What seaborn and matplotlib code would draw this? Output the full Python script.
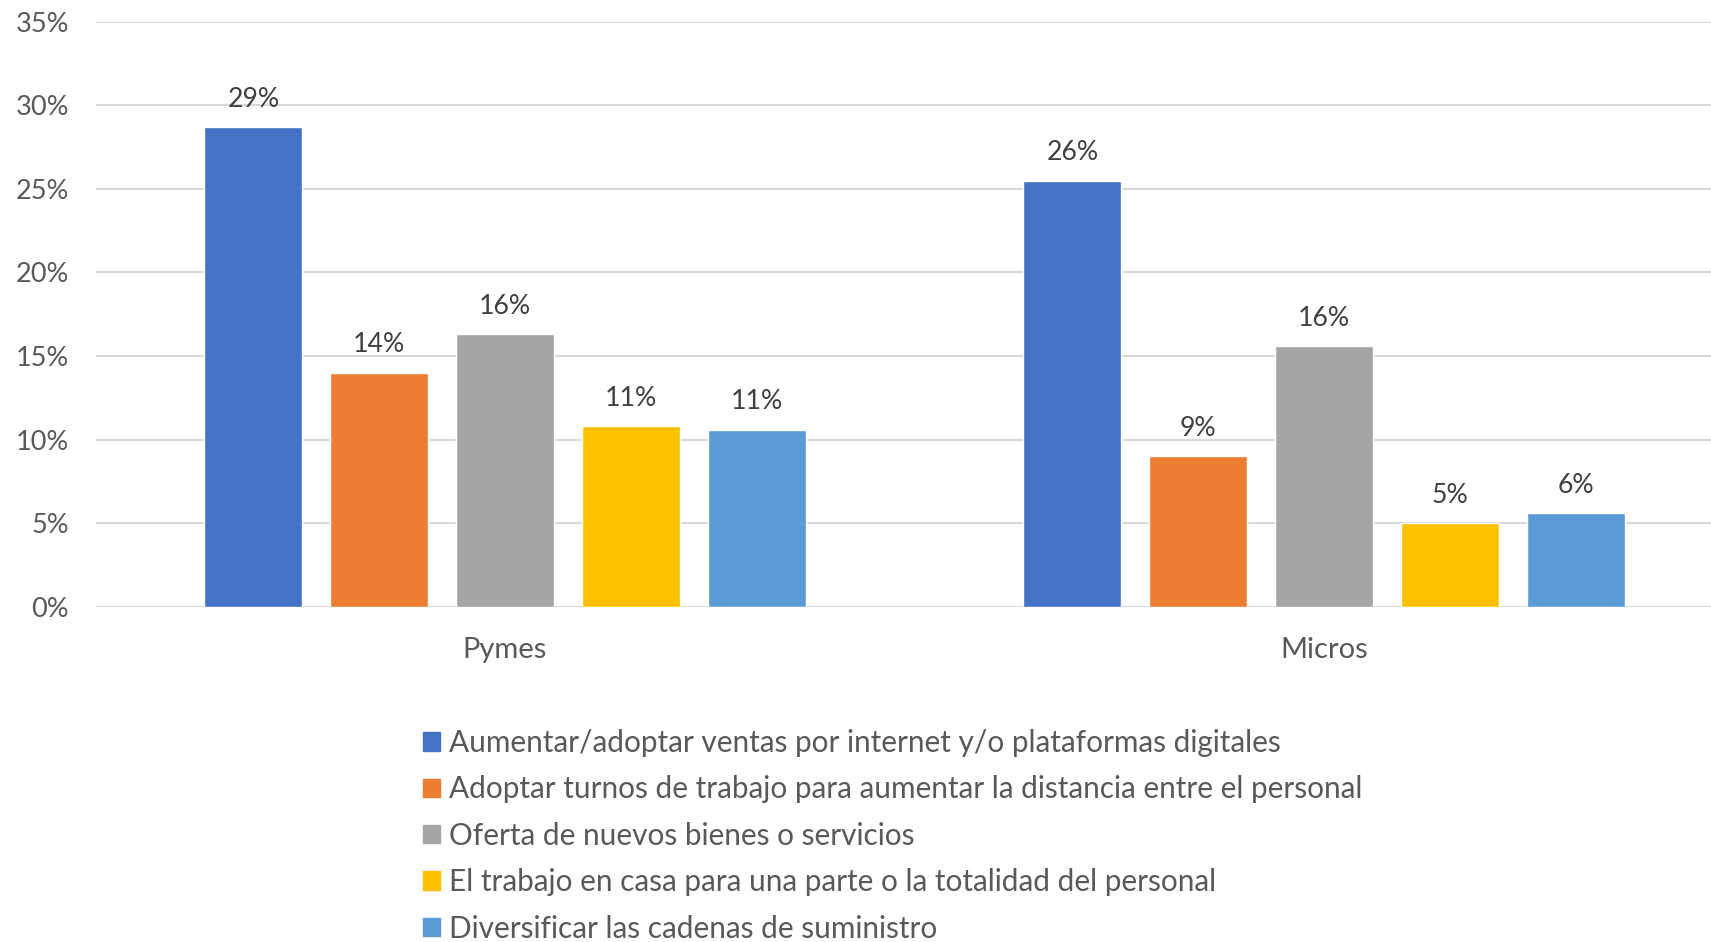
import pandas as pd
import matplotlib.pyplot as plt
import seaborn as sns

# Chart data
groups = ["Pymes", "Micros"]
acciones = [
    "Aumentar/adoptar ventas por internet y/o plataformas digitales",
    "Adoptar turnos de trabajo para aumentar la distancia entre el personal",
    "Oferta de nuevos bienes o servicios",
    "El trabajo en casa para una parte o la totalidad del personal",
    "Diversificar las cadenas de suministro",
]
pymes = [0.287, 0.140, 0.163, 0.108, 0.106]
micros = [0.255, 0.090, 0.156, 0.050, 0.056]
colors = ["#4472C4", "#ED7D31", "#A5A5A5", "#FFC000", "#5B9BD5"]

df = pd.DataFrame({
    "grupo": [g for g in groups for _ in acciones],
    "accion": acciones * 2,
    "valor": pymes + micros,
})

sns.set_style("white")
plt.rcParams["font.family"] = ["Lato", "DejaVu Sans"]

fig = plt.figure(figsize=(17.11, 9.42), dpi=100)
ax = fig.add_axes([95.5 / 1711, 1 - 606.7 / 942, 1 - 95.5 / 1711, (606.7 - 21.8) / 942])

sns.barplot(data=df, x="grupo", y="valor", hue="accion", hue_order=acciones,
            palette=colors, width=0.768, gap=0.22, saturation=1,
            legend=False, ax=ax)

ax.set_ylim(0, 0.35)
ax.set_xlim(-0.5, 1.5 - 22.5 / 819)
ax.set_yticks([i * 0.05 for i in range(8)])
ax.set_yticklabels([f"{i * 5}%" for i in range(8)])
ax.grid(axis="y", color="#D9D9D9", linewidth=1.5)
ax.set_axisbelow(True)
for s in ax.spines.values():
    s.set_visible(False)
ax.tick_params(axis="both", length=0, labelcolor="#595959")
ax.tick_params(axis="y", pad=19, labelsize=19.5)
ax.tick_params(axis="x", pad=22, labelsize=21)
ax.set_xlabel("")
ax.set_ylabel("")

# Data labels
for cont in ax.containers:
    ax.bar_label(cont, labels=[f"{v * 100:.0f}%" for v in cont.datavalues],
                 padding=11, fontsize=19.2, color="#404040")

# Legend
handles = [plt.Rectangle((0, 0), 1, 1, color=c) for c in colors]
fig.legend(handles, acciones, loc="upper left", bbox_to_anchor=(411 / 1711, 1 - 717 / 942),
           frameon=False, fontsize=21.4, labelcolor="#595959",
           handlelength=0.58, handleheight=0.58, handletextpad=0.3,
           labelspacing=0.62, borderaxespad=0)

fig.savefig("out.png", dpi=100)
